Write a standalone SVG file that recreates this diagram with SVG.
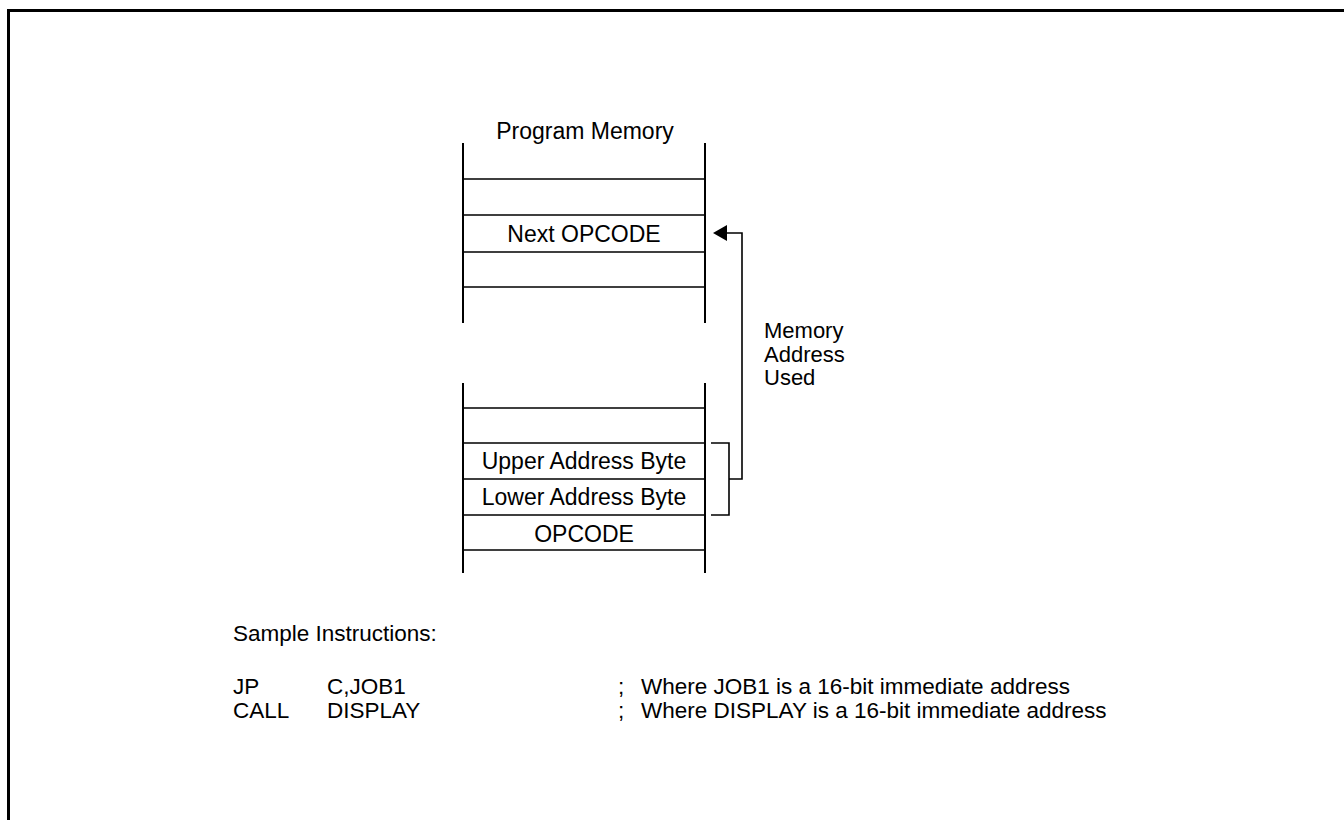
<svg xmlns="http://www.w3.org/2000/svg" width="1344" height="820" viewBox="0 0 1344 820">
<style>
.t{font-family:"Liberation Sans",Arial,sans-serif;font-size:23px;fill:#000}
.s{font-size:22.5px}
.m{font-size:22px}
.c{text-anchor:middle}
.ln{stroke:#000;stroke-width:1.6;fill:none}
.v{stroke:#000;stroke-width:2;fill:none}
</style>
<rect width="1344" height="820" fill="#fff"/>
<path d="M8.5,820 V10.5 H1344" stroke="#000" stroke-width="3" fill="none"/>
<g id="memory-top">
<text class="t c" x="585" y="139">Program Memory</text>
<path class="v" d="M463,143 V323 M705,143 V323"/>
<path class="ln" d="M463,179 H705 M463,215 H705 M463,252 H705 M463,287 H705"/>
<text class="t c" x="584" y="242">Next OPCODE</text>
</g>
<g id="memory-bottom">
<path class="v" d="M463,383 V573 M705,383 V573"/>
<path class="ln" d="M463,408 H705 M463,443 H705 M463,479 H705 M463,515 H705 M463,550 H705"/>
<text class="t c" x="584" y="469">Upper Address Byte</text>
<text class="t c" x="584" y="505">Lower Address Byte</text>
<text class="t c" x="584" y="542">OPCODE</text>
</g>
<g id="connectors">
<path class="ln" d="M711,443 H729 V515 H711 M729,479 H742 V233 H726"/>
<polygon points="713,233 727,225 727,241" fill="#000"/>
</g>
<g id="label">
<text class="t m" x="764" y="338">Memory</text>
<text class="t m" x="764" y="361.5">Address</text>
<text class="t m" x="764" y="385">Used</text>
</g>
<g id="instructions">
<text class="t s" x="233" y="641">Sample Instructions:</text>
<text class="t s" x="233" y="694">JP</text>
<text class="t s" x="327" y="694">C,JOB1</text>
<text class="t s" x="618" y="694">;</text>
<text class="t s" x="641" y="694">Where JOB1 is a 16-bit immediate address</text>
<text class="t s" x="233" y="718">CALL</text>
<text class="t s" x="327" y="718">DISPLAY</text>
<text class="t s" x="618" y="718">;</text>
<text class="t s" x="641" y="718">Where DISPLAY is a 16-bit immediate address</text>
</g>
</svg>
